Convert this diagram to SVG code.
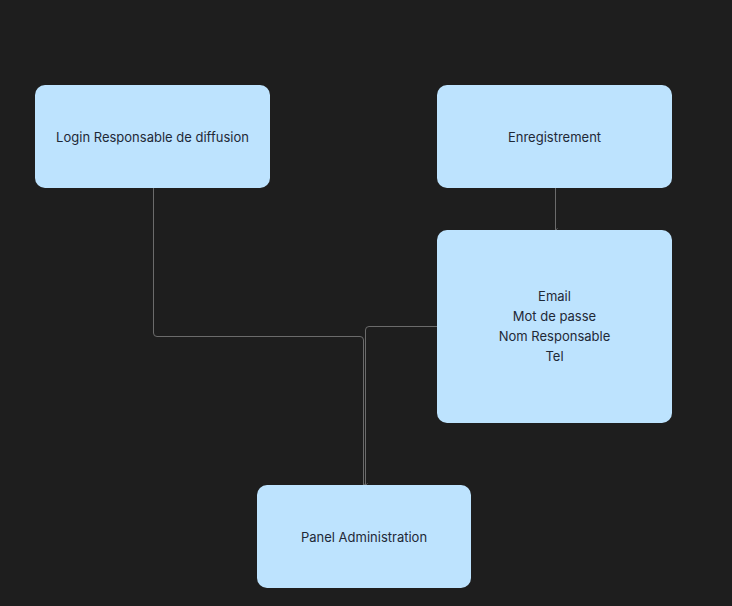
<svg xmlns="http://www.w3.org/2000/svg" width="732" height="606" viewBox="0 0 732 606">
<style>
.box{fill:#bde3fe;}
.t{font-family:Inter,"Noto Sans",sans-serif;font-size:13px;fill:#1f2937;text-anchor:middle;}
.c{fill:none;stroke:#6b6b6b;stroke-width:1;marker-end:url(#a);}
</style>
<defs>
<marker id="a" viewBox="0 0 4 3" refX="2" refY="3" markerWidth="4" markerHeight="3" orient="auto" markerUnits="userSpaceOnUse">
<path d="M0.5,1 L2,2.8 L3.5,1" fill="none" stroke="#6b6b6b" stroke-width="1"/>
</marker>
</defs>
<rect width="732" height="606" fill="#1e1e1e"/>
<g id="connectors">
<path class="c" d="M153.5,188 V333 Q153.5,336.5 157,336.5 H360 Q363.5,336.5 363.5,340 V485"/>
<path class="c" d="M555.5,188 V230"/>
<path class="c" d="M437,326.5 H369 Q365.5,326.5 365.5,330 V485"/>
</g>
<g id="login">
<rect class="box" x="35" y="85" width="235" height="103" rx="10"/>
<text class="t" x="152.5" y="141.5">Login Responsable de diffusion</text>
</g>
<g id="enregistrement">
<rect class="box" x="437" y="85" width="235" height="103" rx="10"/>
<text class="t" x="554.5" y="141.5">Enregistrement</text>
</g>
<g id="champs">
<rect class="box" x="437" y="230" width="235" height="193" rx="10"/>
<text class="t" x="554.5" y="300.5">Email</text>
<text class="t" x="554.5" y="320.5">Mot de passe</text>
<text class="t" x="554.5" y="340.5">Nom Responsable</text>
<text class="t" x="554.5" y="360.5">Tel</text>
</g>
<g id="panel">
<rect class="box" x="257" y="485" width="214" height="103" rx="10"/>
<text class="t" x="364" y="541.5">Panel Administration</text>
</g>
</svg>
